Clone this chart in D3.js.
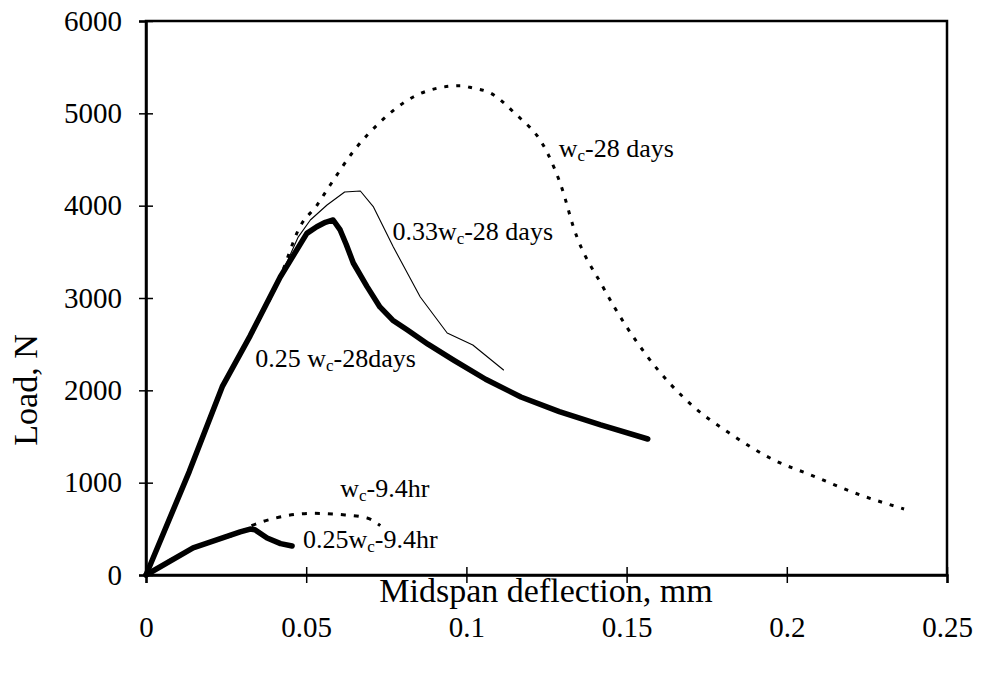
<!DOCTYPE html>
<html>
<head>
<meta charset="utf-8">
<script src="https://cdn.jsdelivr.net/npm/d3@7"></script>
<style>
  body { margin: 0; background: #fff; }
  svg { display: block; }
  text { font-family: "Liberation Serif", "Times New Roman", serif; fill: #000; }
</style>
</head>
<body>
<svg id="chart" width="982" height="673"></svg>
<script>
// Axis ticks
const xTicks = [0, 0.05, 0.1, 0.15, 0.2, 0.25];
const yTicks = [0, 1000, 2000, 3000, 4000, 5000, 6000];

// w_c - 28 days (dotted)
const wc28Defl = [0, 0.0135, 0.0238, 0.0325, 0.0419, 0.048, 0.0534, 0.0575, 0.065, 0.0731, 0.0834, 0.0928, 0.098, 0.102, 0.1075, 0.1147, 0.1253, 0.13, 0.1334, 0.1428, 0.1566, 0.171, 0.1816, 0.196, 0.2075, 0.223, 0.2366];
const wc28Load = [0, 1120, 2040, 2590, 3228, 3769, 4007, 4224, 4600, 4906, 5177, 5285, 5300, 5274, 5220, 5014, 4570, 4170, 3769, 3108, 2361, 1820, 1549, 1245, 1083, 866, 715];

// 0.33 w_c - 28 days (thin solid)
const wc033Defl = [0, 0.0135, 0.0238, 0.0325, 0.0419, 0.0475, 0.0513, 0.0565, 0.062, 0.0669, 0.071, 0.0772, 0.0856, 0.094, 0.102, 0.1116];
const wc033Load = [0, 1120, 2040, 2590, 3228, 3660, 3845, 4007, 4148, 4159, 3986, 3552, 3011, 2621, 2491, 2220];

// 0.25 w_c - 28 days (thick solid)
const wc025Defl = [0, 0.0135, 0.0238, 0.0325, 0.0419, 0.0502, 0.0533, 0.056, 0.0584, 0.0606, 0.0625, 0.0647, 0.069, 0.073, 0.077, 0.0816, 0.088, 0.096, 0.106, 0.117, 0.129, 0.1419, 0.1566];
const wc025Load = [0, 1120, 2040, 2590, 3228, 3700, 3772, 3820, 3845, 3737, 3580, 3379, 3123, 2903, 2760, 2653, 2500, 2328, 2120, 1928, 1770, 1625, 1473];

// w_c - 9.4 hr (dotted)
const wc9Defl = [0, 0.0147, 0.0294, 0.0334, 0.0397, 0.052, 0.0606, 0.069, 0.0731];
const wc9Load = [0, 293, 466, 540, 610, 668, 655, 617, 535];

// 0.25 w_c - 9.4 hr (thick solid)
const wc025_9Defl = [0, 0.0147, 0.0294, 0.0325, 0.034, 0.0378, 0.042, 0.0456];
const wc025_9Load = [0, 293, 466, 498, 490, 401, 340, 314];

const svg = d3.select("#chart");
const x = d3.scaleLinear().domain([0, 0.25]).range([146, 947]);
const y = d3.scaleLinear().domain([0, 6000]).range([575, 21]);

const pts = (xs, ys) => xs.map((d, i) => [d, ys[i]]);

// Plot frame
svg.append("rect")
  .attr("x", x(0)).attr("y", y(6000))
  .attr("width", x(0.25) - x(0)).attr("height", y(0) - y(6000))
  .attr("fill", "none").attr("stroke", "#000").attr("stroke-width", 2.5);

// X axis with ticks crossing the axis line
const xAxis = svg.append("g")
  .attr("transform", `translate(0,${y(0)})`)
  .call(d3.axisBottom(x).tickValues(xTicks).tickSize(8).tickPadding(33)
    .tickFormat(d => d === 0 ? "0" : String(+d.toFixed(2))));
xAxis.select(".domain").attr("stroke-width", 2.5);
xAxis.selectAll(".tick line").attr("y1", -8).attr("stroke-width", 1.5);
xAxis.selectAll(".tick text").attr("font-size", 29).attr("font-family", "Liberation Serif");

// Y axis with ticks crossing the axis line
const yAxis = svg.append("g")
  .attr("transform", `translate(${x(0)},0)`)
  .call(d3.axisLeft(y).tickValues(yTicks).tickSize(7).tickPadding(17)
    .tickFormat(d3.format("d")));
yAxis.select(".domain").attr("stroke-width", 2.5);
yAxis.selectAll(".tick line").attr("x1", 7).attr("stroke-width", 1.5);
yAxis.selectAll(".tick text").attr("font-size", 29).attr("font-family", "Liberation Serif");

// Axis titles
svg.append("text")
  .attr("x", 546).attr("y", 602)
  .attr("text-anchor", "middle").attr("font-size", 34)
  .text("Midspan deflection, mm");
svg.append("text")
  .attr("transform", "translate(37,390) rotate(-90)")
  .attr("text-anchor", "middle").attr("font-size", 34)
  .text("Load, N");

// Curves
const line = d3.line().x(d => x(d[0])).y(d => y(d[1]));
const smooth = d3.line().x(d => x(d[0])).y(d => y(d[1])).curve(d3.curveMonotoneX);
const g = svg.append("g").attr("fill", "none").attr("stroke", "#000")
  .attr("stroke-linejoin", "round").attr("stroke-linecap", "round");

g.append("path").attr("d", smooth(pts(wc28Defl, wc28Load)))
  .attr("stroke-width", 3).attr("stroke-dasharray", "4,8").attr("stroke-linecap", "butt");
g.append("path").attr("d", smooth(pts(wc9Defl, wc9Load)))
  .attr("stroke-width", 3).attr("stroke-dasharray", "5,8").attr("stroke-linecap", "butt");
g.append("path").attr("d", line(pts(wc033Defl, wc033Load)))
  .attr("stroke-width", 1.1);
g.append("path").attr("d", line(pts(wc025Defl, wc025Load)))
  .attr("stroke-width", 5.5);
g.append("path").attr("d", line(pts(wc025_9Defl, wc025_9Load)))
  .attr("stroke-width", 5.5);

// Curve labels with subscript c
function label(px, py, pre, post) {
  const t = svg.append("text")
    .attr("x", x(px)).attr("y", y(py)).attr("font-size", 26);
  t.append("tspan").text(pre + "w");
  t.append("tspan").attr("font-size", 17).attr("dy", 4).text("c");
  t.append("tspan").attr("dy", -4).text(post);
}
label(0.1288, 4527, "", "-28 days");
label(0.0769, 3628, "0.33", "-28 days");
label(0.0341, 2253, "0.25 ", "-28days");
label(0.0606, 845, "", "-9.4hr");
label(0.049, 292, "0.25", "-9.4hr");
</script>
</body>
</html>
